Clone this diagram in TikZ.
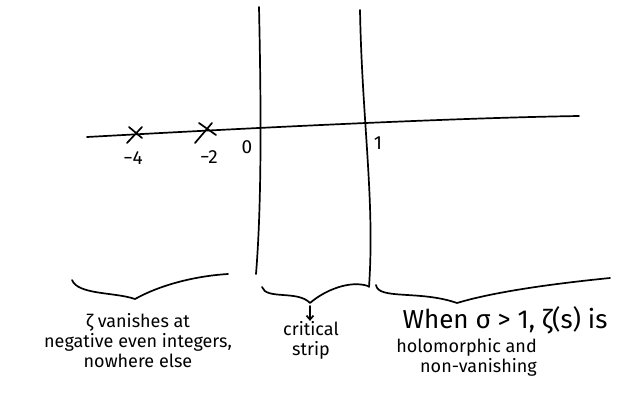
\documentclass[tikz,border=0pt]{standalone}
\usepackage{fontspec}
\setmainfont{Fira Sans}
\usetikzlibrary{arrows.meta}
\begin{document}
\begin{tikzpicture}[x=1pt,y=-1pt,
  pen/.style={line width=1.7pt,line cap=round,line join=round},
  num/.style={inner sep=0pt,font=\fontsize{19}{21}\selectfont},
  lbl/.style={inner sep=0pt,font=\fontsize{18}{20}\selectfont},
  big/.style={inner sep=0pt,font=\fontsize{26}{28}\selectfont}]
\useasboundingbox (0,0) rectangle (627,400);
% axis
\coordinate (axL) at (87,137);
\coordinate (axR) at (579,116);
\draw[pen] (axL) .. controls (250,128) and (450,118) .. (axR);
% vertical lines
\coordinate (v0t) at (259,7);
\coordinate (v0b) at (256,274);
\draw[pen] (v0t) .. controls (261,100) and (262,200) .. (v0b);
\coordinate (v1t) at (360,10);
\coordinate (v1b) at (369,287);
\draw[pen] (v1t) .. controls (362,120) and (375,200) .. (v1b);
% crosses
\draw[pen] (127,143) -- (142,127) (129,127) -- (142,138);
\draw[pen] (195,143) -- (212,123) (199,123) -- (216,135);
% labels
\node[num] (m4) at (133,158) {−4};
\node[num] (m2) at (209,157) {−2};
\node[num] (z0) at (247,147) {0};
\node[num] (o1) at (378,143) {1};
% left brace
\coordinate (lb1) at (72,280);
\coordinate (lbt) at (135,299);
\coordinate (lb2) at (228,274);
\draw[pen] (lb1) .. controls (78,295) and (115,292) .. (lbt) .. controls (160,285) and (195,276) .. (lb2);
% middle brace
\coordinate (mb1) at (262,287);
\coordinate (mbt) at (310,303);
\coordinate (mb2) at (368,286);
\draw[pen] (mb1) .. controls (266,300) and (298,290) .. (mbt) .. controls (325,290) and (350,280) .. (mb2);
% right brace
\coordinate (rb1) at (376,285);
\coordinate (rbt) at (457,303);
\coordinate (rb2) at (610,278);
\draw[pen] (rb1) .. controls (378,300) and (420,290) .. (rbt) .. controls (500,290) and (570,282) .. (rb2);
% texts
\node[lbl,align=center] (left) at (138,341) {ζ vanishes at\\negative even integers,\\nowhere else};
\node[lbl,align=center] (crit) at (311,340) {critical\\strip};
\draw[pen,-{Straight Barb[length=4pt,width=7pt]}] (mbt) ++(0,3) coordinate (ar0) -- (ar0 |- crit.north);
\node[big] (when) at (505,320) {When σ > 1, ζ(s) is};
\node[lbl,align=right,anchor=east] (holo) at (537,357) {holomorphic and\\non-vanishing};
\end{tikzpicture}
\end{document}
